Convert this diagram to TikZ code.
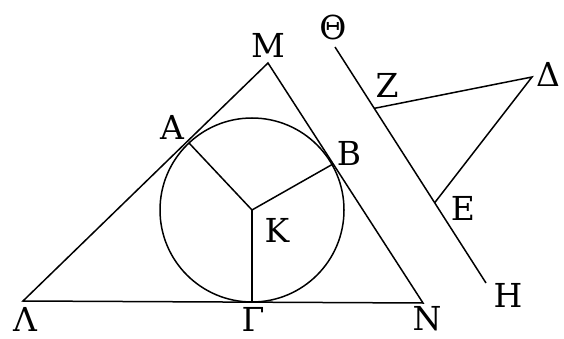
\documentclass[tikz,border=0pt]{standalone}
\usepackage{fontspec}
\setmainfont{DejaVu Serif}
\usetikzlibrary{calc}
\tikzset{lbl/.style={font=\fontsize{33}{33}\selectfont,inner sep=0pt}}

\begin{document}
\begin{tikzpicture}[x=1pt,y=-1pt,line width=1.5pt]
\useasboundingbox (0,0) rectangle (564,339);
% triangle with its inscribed circle
\coordinate (M) at (268,63);
\coordinate (L) at (23,301);
\coordinate (N) at (423,303);
\coordinate (K) at (252,210);
\coordinate (A) at (189,143);
\coordinate (B) at (333,164);
\coordinate (G) at (252,302);
\draw (L) -- (M) -- (N) -- cycle;
\draw (K) circle[radius=92];
\draw (A) -- (K) -- (B);
\draw (K) -- (G);
% the line and the angle beside it
\coordinate (T) at (335,47);
\coordinate (H) at (486,283);
\coordinate (D) at (532,77);
\coordinate (Z) at ($(T)!0.26!(H)$);
\coordinate (E) at ($(T)!0.66!(H)$);
\draw (T) -- (H);
\draw (Z) -- (D) -- (E);
% letters
\node[lbl] (mlab) at (268,45) {Μ};
\node[lbl] (alab) at (172,127) {Α};
\node[lbl] (blab) at (349,153) {Β};
\node[lbl] (klab) at (277,230) {Κ};
\node[lbl] (llab) at (25,319) {Λ};
\node[lbl] (glab) at (253,319) {Γ};
\node[lbl] (nlab) at (427,319) {Ν};
\node[lbl] (tlab) at (333,27) {Θ};
\node[lbl] (zlab) at (387,85) {Ζ};
\node[lbl] (dlab) at (548,74) {Δ};
\node[lbl] (elab) at (463,208) {Ε};
\node[lbl] (hlab) at (508,295) {Η};
\end{tikzpicture}
\end{document}
